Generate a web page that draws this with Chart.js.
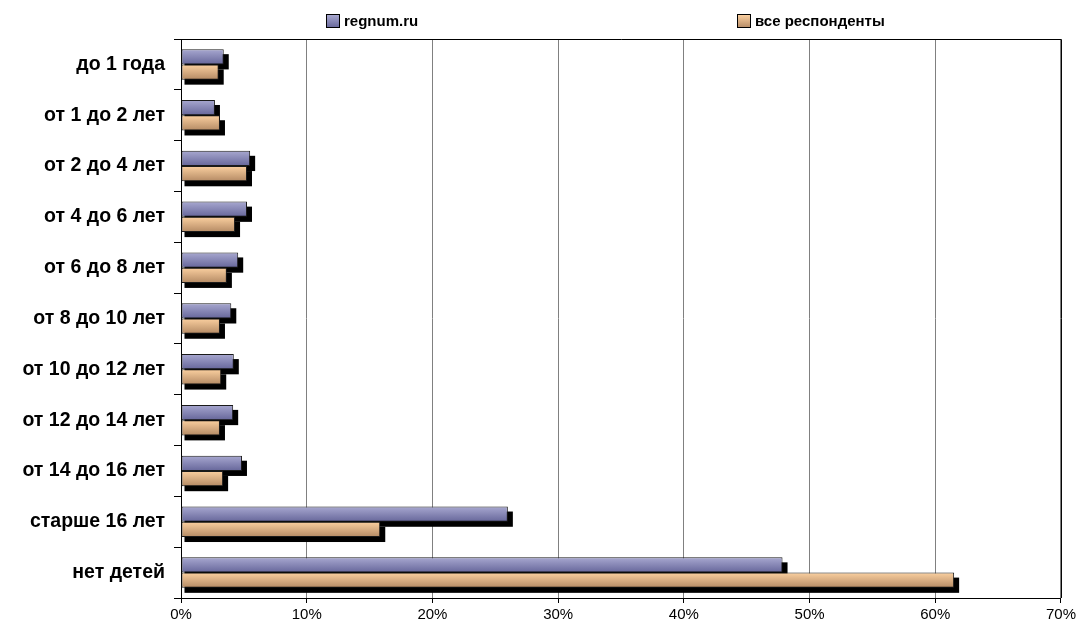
<!DOCTYPE html>
<html>
<head>
<meta charset="utf-8">
<script src="https://cdn.jsdelivr.net/npm/chart.js@4.4.1/dist/chart.umd.min.js"></script>
<style>
    body { margin: 0; background: #fff; font-family: 'Liberation Sans', Arial, sans-serif; }
    #wrap { position: relative; width: 1079px; height: 626px; }
    .legend-item { position: absolute; top: 12px; display: flex; align-items: center; font-weight: bold; font-size: 15px; color: #000; }
    .legend-box { width: 12px; height: 12px; border: 1px solid #000; margin-right: 4px; }
</style>
</head>
<body>
<div id="wrap">
    <canvas id="chart"></canvas>
    <div class="legend-item" style="left:326px"><span class="legend-box" style="background:linear-gradient(#a8a8d0,#6a6a9c)"></span>regnum.ru</div>
    <div class="legend-item" style="left:737px"><span class="legend-box" style="background:linear-gradient(#fbd0a0,#b88e68)"></span>все респонденты</div>
</div>
<script>
const categories = [
    'до 1 года', 'от 1 до 2 лет', 'от 2 до 4 лет', 'от 4 до 6 лет', 'от 6 до 8 лет',
    'от 8 до 10 лет', 'от 10 до 12 лет', 'от 12 до 14 лет', 'от 14 до 16 лет',
    'старше 16 лет', 'нет детей'
];
const regnumValues = [3.4, 2.7, 5.5, 5.25, 4.55, 4.0, 4.2, 4.15, 4.85, 26.0, 47.85];
const allValues = [3.0, 3.1, 5.25, 4.3, 3.65, 3.1, 3.2, 3.1, 3.35, 15.85, 61.5];
const xTicks = [0, 10, 20, 30, 40, 50, 60, 70];

const colors = {
    blueTop: '#a8a8d0',
    blueBottom: '#66669a',
    orangeTop: '#fbd0a0',
    orangeBottom: '#b48a64',
    shadow: '#000000'
};

const CATEGORY_PCT = 0.6;

function barGradient(context, top, bottom, upper) {
    const chart = context.chart;
    const yScale = chart.scales.y;
    if (!chart.chartArea || !yScale || context.dataIndex === undefined) return top;
    const center = yScale.getPixelForValue(context.dataIndex);
    const band = (chart.chartArea.bottom - chart.chartArea.top) / categories.length;
    const half = band * CATEGORY_PCT / 2;
    const y0 = upper ? center - half : center;
    const y1 = upper ? center : center + half;
    const g = chart.ctx.createLinearGradient(0, y0, 0, y1);
    g.addColorStop(0, top);
    g.addColorStop(1, bottom);
    return g;
}

const shadowAndFrame = {
    id: 'shadowAndFrame',
    beforeDatasetsDraw(chart) {
        const ctx = chart.ctx;
        const area = chart.chartArea;
        ctx.save();
        ctx.strokeStyle = '#000';
        ctx.lineWidth = 1;
        ctx.beginPath();
        ctx.moveTo(area.left, area.top + 0.5);
        ctx.lineTo(area.right + 0.5, area.top + 0.5);
        ctx.lineTo(area.right + 0.5, area.bottom);
        ctx.stroke();

        ctx.fillStyle = colors.shadow;
        chart.data.datasets.forEach((ds, i) => {
            const meta = chart.getDatasetMeta(i);
            meta.data.forEach((bar) => {
                const h = bar.height;
                ctx.fillRect(bar.base + 3, bar.y - h / 2 + 5, bar.x - bar.base + 2, h);
            });
        });
        ctx.restore();
    }
};

new Chart(document.getElementById('chart'), {
    type: 'bar',
    data: {
        labels: categories,
        datasets: [
            {
                label: 'regnum.ru',
                data: regnumValues,
                backgroundColor: (c) => barGradient(c, colors.blueTop, colors.blueBottom, true),
                borderColor: '#1a1a1a',
                borderWidth: 1,
                borderSkipped: false
            },
            {
                label: 'все респонденты',
                data: allValues,
                backgroundColor: (c) => barGradient(c, colors.orangeTop, colors.orangeBottom, false),
                borderColor: '#1a1a1a',
                borderWidth: 1,
                borderSkipped: false
            }
        ]
    },
    options: {
        indexAxis: 'y',
        responsive: true,
        maintainAspectRatio: false,
        animation: false,
        categoryPercentage: CATEGORY_PCT,
        barPercentage: 1,
        layout: { padding: { top: 39, right: 17, left: 0, bottom: 0 } },
        plugins: {
            legend: { display: false },
            tooltip: { enabled: false }
        },
        scales: {
            x: {
                min: 0,
                max: 70,
                afterBuildTicks(scale) {
                    scale.ticks = xTicks.map((v) => ({ value: v }));
                },
                afterFit(scale) { scale.height = 28; },
                grid: { color: '#808080', tickColor: '#000', tickLength: 5 },
                border: { color: '#000', width: 1 },
                ticks: {
                    color: '#000',
                    padding: 3,
                    font: { family: "'Liberation Sans', Arial, sans-serif", size: 15 },
                    callback: (v) => v + '%'
                }
            },
            y: {
                afterFit(scale) { scale.width = 181; },
                grid: { drawOnChartArea: false, tickColor: '#000', tickLength: 7, offset: true },
                border: { color: '#000', width: 1 },
                ticks: {
                    color: '#000',
                    padding: 9,
                    font: { family: "'Liberation Sans', Arial, sans-serif", size: 19.5, weight: 'bold' }
                }
            }
        }
    },
    plugins: [shadowAndFrame]
});
</script>
</body>
</html>
